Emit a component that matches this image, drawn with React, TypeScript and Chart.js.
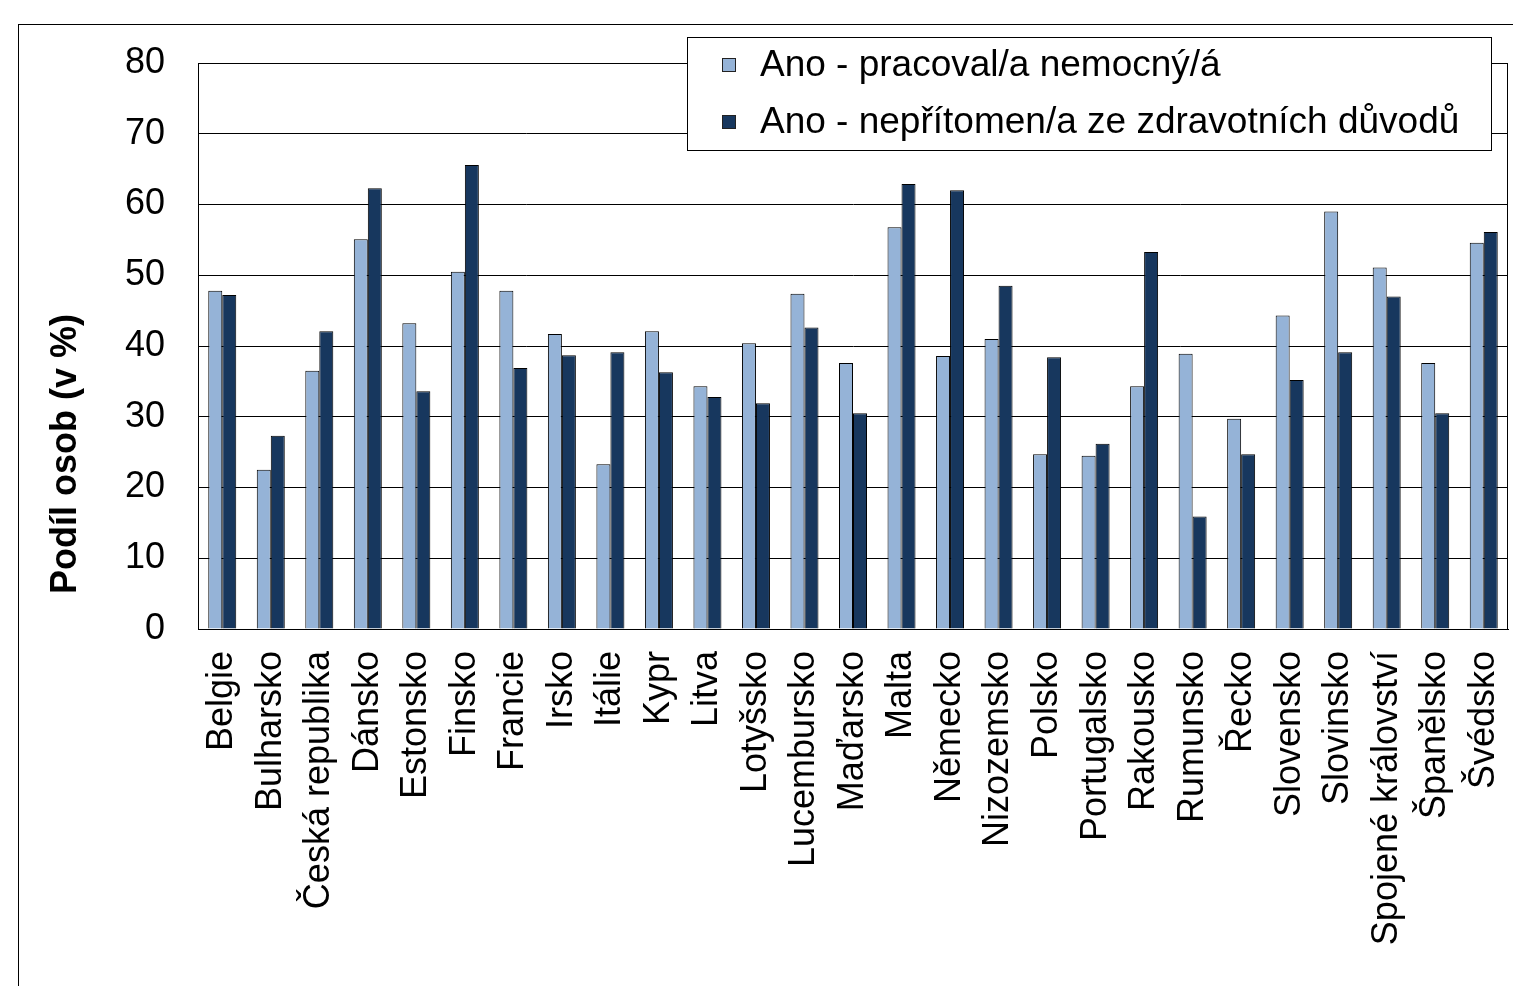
import React, { useEffect, useRef } from "react";
import { Chart, registerables } from "chart.js";

Chart.register(...registerables);

const categories = [
  "Belgie", "Bulharsko", "Česká republika", "Dánsko", "Estonsko", "Finsko", "Francie",
  "Irsko", "Itálie", "Kypr", "Litva", "Lotyšsko", "Lucembursko", "Maďarsko", "Malta",
  "Německo", "Nizozemsko", "Polsko", "Portugalsko", "Rakousko", "Rumunsko", "Řecko",
  "Slovensko", "Slovinsko", "Spojené království", "Španělsko", "Švédsko",
];

const workedSick = [
  47.8, 22.5, 36.5, 55.1, 43.2, 50.5, 47.8, 41.7, 23.3, 42.1, 34.3, 40.4, 47.4, 37.6,
  56.8, 38.6, 41.0, 24.7, 24.5, 34.3, 38.9, 29.7, 44.3, 59.0, 51.1, 37.6, 54.6,
];

const absentHealth = [
  47.2, 27.3, 42.1, 62.3, 33.6, 65.6, 36.9, 38.7, 39.1, 36.3, 32.8, 31.9, 42.6, 30.5,
  62.9, 62.0, 48.5, 38.4, 26.2, 53.3, 15.9, 24.7, 35.2, 39.1, 47.0, 30.5, 56.1,
];

const seriesNames = [
  "Ano - pracoval/a nemocný/á",
  "Ano - nepřítomen/a ze zdravotních důvodů",
];
const seriesColors = ["#95B3D7", "#17375E"];
const yTitle = "Podíl osob (v %)";

const FONT = "'Liberation Sans', Arial, sans-serif";

const decorPlugin = {
  id: "decor",
  beforeDraw(chart: any) {
    const ctx = chart.ctx;
    ctx.save();
    ctx.fillStyle = "#fff";
    ctx.fillRect(0, 0, chart.width, chart.height);
    ctx.strokeStyle = "#000";
    ctx.lineWidth = 1;
    ctx.strokeRect(18.5, 24.5, 3000, 3000);
    ctx.restore();
  },
  afterDraw(chart: any) {
    const ctx = chart.ctx;
    const a = chart.chartArea;
    ctx.save();
    // plot border
    ctx.strokeStyle = "#000";
    ctx.lineWidth = 1;
    ctx.strokeRect(a.left + 0.5, a.top + 0.5, a.right - a.left - 1, a.bottom - a.top);

    // y title
    ctx.save();
    ctx.translate(66, 454);
    ctx.rotate(-Math.PI / 2);
    ctx.fillStyle = "#000";
    ctx.font = `bold 36px ${FONT}`;
    ctx.textAlign = "center";
    ctx.textBaseline = "middle";
    ctx.fillText(yTitle, 0, 0);
    ctx.restore();

    // legend
    const bx = a.left + 489;
    const by = 37;
    const bw = 804;
    const bh = 113;
    ctx.fillStyle = "#fff";
    ctx.fillRect(bx, by, bw, bh);
    ctx.strokeStyle = "#000";
    ctx.strokeRect(bx + 0.5, by + 0.5, bw, bh);
    const rows = [65, 122];
    chart.data.datasets.forEach((ds: any, i: number) => {
      const cy = rows[i];
      ctx.fillStyle = ds.backgroundColor;
      ctx.fillRect(bx + 35, cy - 7, 14, 14);
      ctx.strokeStyle = "#222";
      ctx.strokeRect(bx + 35.5, cy - 6.5, 13, 13);
      ctx.fillStyle = "#000";
      ctx.font = `37px ${FONT}`;
      ctx.textAlign = "left";
      ctx.textBaseline = "middle";
      ctx.fillText(ds.label, bx + 73, cy + 1);
    });
    ctx.restore();
  },
};

export default function App() {
  const ref = useRef<HTMLCanvasElement | null>(null);

  useEffect(() => {
    if (!ref.current) return;
    const chart = new Chart(ref.current, {
      type: "bar",
      data: {
        labels: categories,
        datasets: [
          {
            label: seriesNames[0],
            data: workedSick,
            backgroundColor: seriesColors[0],
            borderColor: "#000",
            borderWidth: 1,
            categoryPercentage: 0.577,
            barPercentage: 1,
          },
          {
            label: seriesNames[1],
            data: absentHealth,
            backgroundColor: seriesColors[1],
            borderColor: "#000",
            borderWidth: 1,
            categoryPercentage: 0.577,
            barPercentage: 1,
          },
        ],
      },
      options: {
        responsive: false,
        animation: false,
        layout: { padding: { left: 0, top: 63, right: 5, bottom: 0 } },
        plugins: {
          legend: { display: false },
          tooltip: { enabled: false },
          title: { display: false },
        },
        scales: {
          x: {
            grid: { display: false, drawTicks: false },
            border: { display: true, color: "#000", width: 1 },
            ticks: {
              color: "#000",
              font: { family: FONT, size: 36 },
              minRotation: 90,
              maxRotation: 90,
              autoSkip: false,
              padding: 22,
            },
            afterFit: (s: any) => {
              s.height = 357;
              s.paddingLeft = 0;
              s.paddingRight = 0;
            },
          },
          y: {
            min: 0,
            max: 80,
            grid: { color: "#000", lineWidth: 1, drawTicks: false },
            border: { display: true, color: "#000", width: 1 },
            ticks: {
              stepSize: 10,
              color: "#000",
              font: { family: FONT, size: 36 },
              padding: 33,
            },
            afterFit: (s: any) => {
              s.width = 198;
              s.paddingTop = 0;
              s.paddingBottom = 0;
            },
          },
        },
      },
      plugins: [decorPlugin],
    });
    return () => chart.destroy();
  }, []);

  return (
    <div style={{ position: "fixed", left: 0, top: 0, width: 1513, height: 986, background: "#fff" }}>
      <canvas ref={ref} width={1513} height={986} style={{ display: "block" }} />
    </div>
  );
}
